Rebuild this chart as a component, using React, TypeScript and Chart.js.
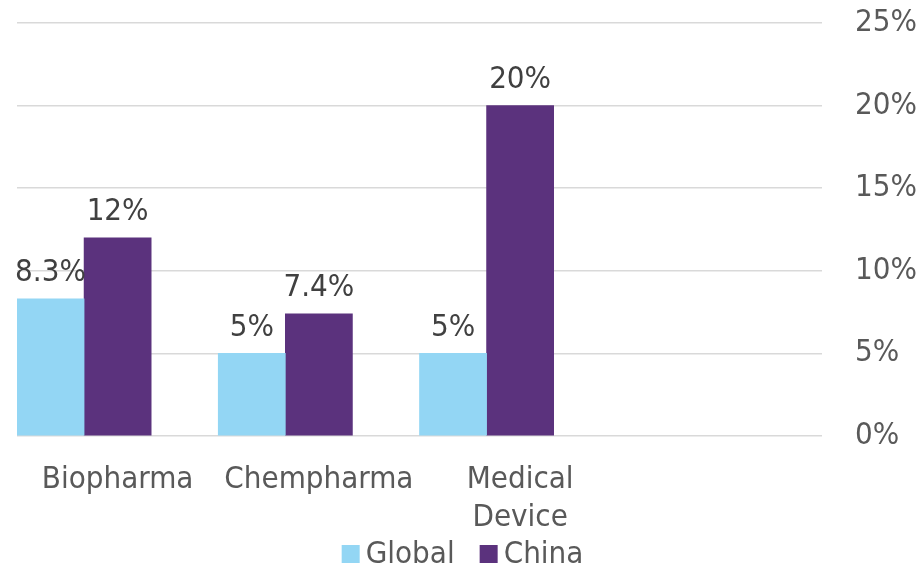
import React, { useEffect, useRef } from "react";
import { Chart, registerables } from "chart.js";

Chart.register(...registerables);

const categories: (string | string[])[] = ["Biopharma", "Chempharma", ["Medical", "Device"], ""];
const globalValues: (number | null)[] = [8.3, 5, 5, null];
const chinaValues: (number | null)[] = [12, 7.4, 20, null];
const spacerValues: (number | null)[] = [null, null, null, null];
const yTicks = [0, 5, 10, 15, 20, 25];

const FONT = "'DejaVu Sans Condensed', 'DejaVu Sans', sans-serif";
const FS = 31;

const valueLabels = {
  id: "valueLabels",
  afterDatasetsDraw(chart: any) {
    const ctx = chart.ctx;
    ctx.save();
    ctx.font = `${FS}px ${FONT}`;
    ctx.fillStyle = "#404040";
    ctx.textAlign = "center";
    ctx.textBaseline = "bottom";
    chart.data.datasets.forEach((ds: any, i: number) => {
      if (!ds.showValues) return;
      const meta = chart.getDatasetMeta(i);
      meta.data.forEach((el: any, j: number) => {
        const v = ds.data[j];
        if (v == null) return;
        ctx.fillText(`${v}%`, el.x, el.y - 10);
      });
    });
    ctx.restore();
  },
};

const customLegend = {
  id: "customLegend",
  afterDraw(chart: any) {
    const ctx = chart.ctx;
    ctx.save();
    ctx.font = `${FS}px ${FONT}`;
    ctx.textBaseline = "middle";
    ctx.textAlign = "left";
    const items = chart.data.datasets.filter((d: any) => d.label);
    const box = 18, gap = 6, itemGap = 28;
    const widths = items.map((d: any) => box + gap + ctx.measureText(d.label).width);
    const total = widths.reduce((a: number, b: number) => a + b, 0) + itemGap * (items.length - 1);
    let x = (chart.width - total) / 2 + 2;
    const cy = 554;
    items.forEach((d: any, i: number) => {
      ctx.fillStyle = d.backgroundColor;
      ctx.fillRect(x, cy - box / 2, box, box);
      ctx.fillStyle = "#595959";
      ctx.fillText(d.label, x + box + gap, cy + 1);
      x += widths[i] + itemGap - 3;
    });
    ctx.restore();
  },
};

export default function App() {
  const ref = useRef<HTMLCanvasElement>(null);
  useEffect(() => {
    if (!ref.current) return;
    const chart = new Chart(ref.current, {
      type: "bar",
      data: {
        labels: categories,
        datasets: [
          { label: "Global", data: globalValues, backgroundColor: "#93D6F4", showValues: true } as any,
          { label: "China", data: chinaValues, backgroundColor: "#5B327D", showValues: true } as any,
          { label: "", data: spacerValues, backgroundColor: "rgba(0,0,0,0)" } as any,
        ],
      },
      options: {
        animation: false,
        responsive: true,
        maintainAspectRatio: false,
        datasets: { bar: { categoryPercentage: 1, barPercentage: 1 } },
        layout: { padding: { left: 17, top: 23, right: 0, bottom: 0 } },
        plugins: {
          tooltip: { enabled: false },
          legend: { display: false },
        },
        scales: {
          x: {
            grid: { display: false, drawTicks: false },
            border: { display: false },
            afterFit: (scale: any) => {
              scale.height = 132;
            },
            ticks: {
              color: "#595959",
              font: { family: FONT, size: FS, lineHeight: 1.23 },
              padding: 25,
              maxRotation: 0,
              autoSkip: false,
            },
          },
          y: {
            position: "right",
            min: 0,
            max: 25,
            afterBuildTicks: (scale: any) => {
              scale.ticks = yTicks.map((v) => ({ value: v }));
            },
            afterFit: (scale: any) => {
              scale.width = 102;
            },
            grid: {
              color: "#D9D9D9",
              lineWidth: 1.5,
              drawTicks: true,
              tickLength: 33,
              tickColor: "rgba(0,0,0,0)",
            },
            border: { display: false },
            ticks: {
              color: "#595959",
              font: { family: FONT, size: FS },
              padding: 0,
              callback: (v: any) => `${v}%`,
            },
          },
        },
      },
      plugins: [valueLabels, customLegend],
    });
    return () => chart.destroy();
  }, []);
  return (
    <div style={{ position: "fixed", left: 0, top: 0, width: 924, height: 568, background: "#fff" }}>
      <canvas ref={ref} />
    </div>
  );
}
